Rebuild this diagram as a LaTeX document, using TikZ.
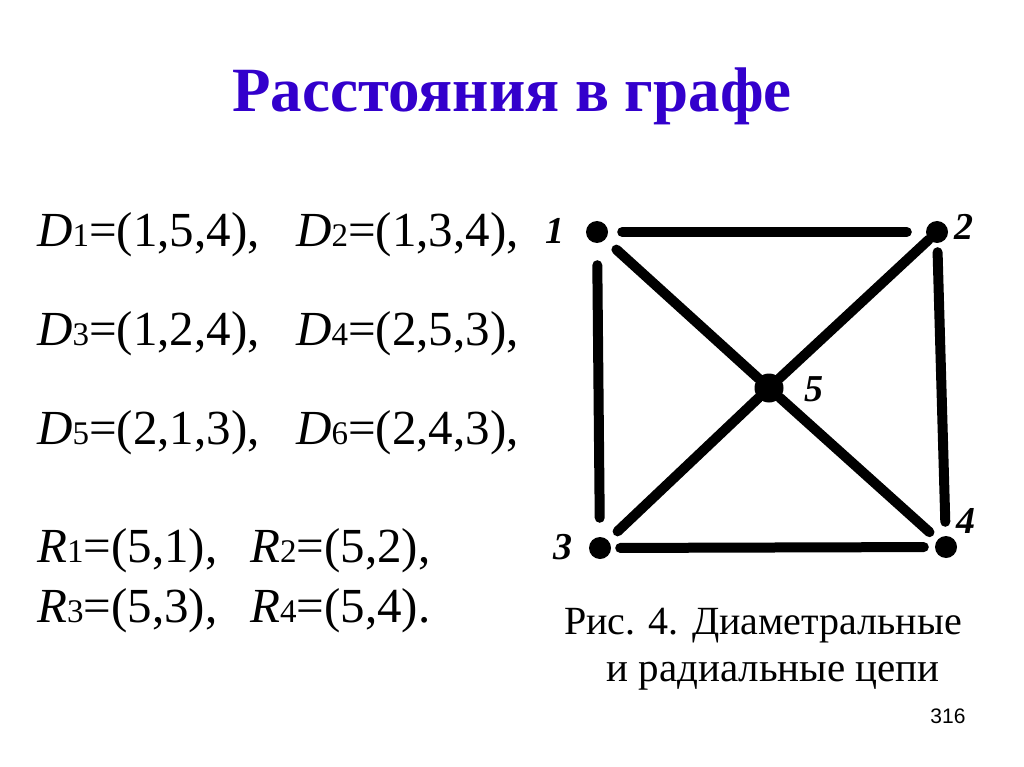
\documentclass[tikz,border=0pt]{standalone}
\usepackage{fontspec}
\setmainfont{Liberation Serif}
\newfontfamily\arialfont{Liberation Sans}
\definecolor{titleblue}{RGB}{51,0,204}
\newcommand\dsub[1]{{\fontsize{33}{33}\selectfont #1}}
\begin{document}
\begin{tikzpicture}[x=1pt,y=-1pt,
  vtx/.style={circle,fill=black,inner sep=0pt,minimum size=22pt},
  edge/.style={line width=10pt,line cap=round},
  vlab/.style={inner sep=0pt,font=\fontsize{38}{38}\selectfont\bfseries\itshape},
  body/.style={anchor=base west,inner sep=0pt,font=\fontsize{49}{58}\selectfont},
  captext/.style={anchor=base,inner sep=0pt,font=\fontsize{40}{48}\selectfont},
]
\useasboundingbox[fill=white] (0,0) rectangle (1024,767);
% title
\node[anchor=base,inner sep=0pt,text=titleblue,font=\fontsize{63}{70}\selectfont\bfseries] (title) at (512,112) {Расстояния в графе};
% body text
\node[body] (d1) at (37,246) {\textit{D}\dsub{1}=(1,5,4),};
\node[body] (d2) at (296,246) {\textit{D}\dsub{2}=(1,3,4),};
\node[body] (d3) at (37,345) {\textit{D}\dsub{3}=(1,2,4),};
\node[body] (d4) at (296,345) {\textit{D}\dsub{4}=(2,5,3),};
\node[body] (d5) at (37,444) {\textit{D}\dsub{5}=(2,1,3),};
\node[body] (d6) at (296,444) {\textit{D}\dsub{6}=(2,4,3),};
\node[body] (r1) at (37,562) {\textit{R}\dsub{1}=(5,1),};
\node[body] (r2) at (250,562) {\textit{R}\dsub{2}=(5,2),};
\node[body] (r3) at (37,622) {\textit{R}\dsub{3}=(5,3),};
\node[body] (r4) at (250,622) {\textit{R}\dsub{4}=(5,4).};
% caption
\node[captext] (cap1) at (763,634) {Рис. 4. Диаметральные};
\node[captext,font=\fontsize{41}{48}\selectfont] (cap2) at (773,681) {и радиальные цепи};
\node[anchor=base,inner sep=0pt,font=\fontsize{21}{21}\arialfont] (pg) at (948,723) {316};
% graph
\node[vtx] (v1) at (597,232) {};
\node[vtx] (v2) at (937,232) {};
\node[vtx] (v3) at (600,548) {};
\node[vtx] (v4) at (946,547) {};
\node[vtx,minimum size=29pt] (v5) at (769,388) {};
\node[vlab] (l1) at (555,231) {1};
\node[vlab] (l2) at (964,227) {2};
\node[vlab] (l3) at (563,547) {3};
\node[vlab] (l4) at (966,521) {4};
\node[vlab] (l5) at (814,389) {5};
\draw[edge,shorten <=14pt,shorten >=19pt] (v1) -- (v2);
\draw[edge,shorten <=22pt,shorten >=19pt] (v1) -- (v3);
\draw[edge,shorten <=9pt,shorten >=14pt] (v2) -- (v4);
\draw[edge,shorten <=9pt,shorten >=11pt] (v3) -- (v4);
\draw[edge,shorten <=15pt] (v1) -- (v5);
\draw[edge] (v2) -- (v5);
\draw[edge,shorten <=13pt] (v3) -- (v5);
\draw[edge,shorten >=11pt] (v5) -- (v4);
\end{tikzpicture}
\end{document}
